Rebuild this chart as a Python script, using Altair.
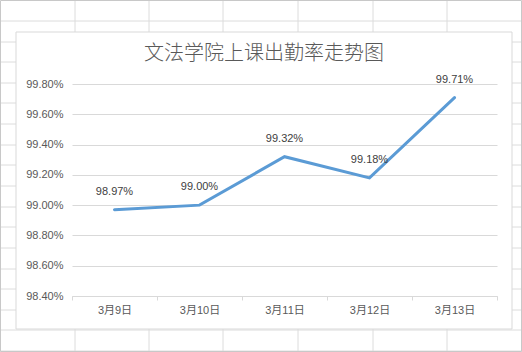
import altair as alt
import pandas as pd

# ---- data ----
dates = ["3月9日", "3月10日", "3月11日", "3月12日", "3月13日"]
rates = [0.9897, 0.9900, 0.9932, 0.9918, 0.9971]
y_ticks = [0.984, 0.986, 0.988, 0.990, 0.992, 0.994, 0.996, 0.998]
title_text = "文法学院上课出勤率走势图"

# ---- layout (page pixels) ----
PL, PT = 72, 84          # plot origin on page
W, H = 425, 212          # plot size
PAGE_W, PAGE_H = 522, 352
sheet_cols = [75, 149, 223, 298, 373, 447]
sheet_rows = [21, 42, 62, 83, 103, 124, 145, 165, 186, 207, 227, 248, 269, 289, 310, 330, 351]
BOX = (16, 32, 512, 329)  # chart box left, top, right, bottom

FONT = "Liberation Sans, Noto Sans CJK SC, sans-serif"
TXT = "#595959"
GRID = "#D9D9D9"
SHEET = "#DCDCDC"

# spreadsheet grid segments (outside the chart box)
segs = []
for x in sheet_cols:
    segs.append((x, 0, x, BOX[1]))
    segs.append((x, BOX[3], x, PAGE_H))
for y in sheet_rows:
    if y < BOX[1] or y > BOX[3]:
        segs.append((0, y, PAGE_W, y))
    else:
        segs.append((0, y, BOX[0], y))
        segs.append((BOX[2], y, PAGE_W, y))
seg_df = pd.DataFrame(
    [{"x": a - PL, "y": b - PT, "x2": c - PL, "y2": d - PT} for a, b, c, d in segs]
)

sheet = alt.Chart(seg_df).mark_rule(color=SHEET, strokeWidth=1).encode(
    x=alt.X("x:Q", scale=None),
    y=alt.Y("y:Q", scale=None),
    x2="x2:Q",
    y2="y2:Q",
)

rect_df = pd.DataFrame([
    {"x": BOX[0] - PL, "y": BOX[1] - PT, "x2": BOX[2] - PL, "y2": BOX[3] - PT},
])
box = alt.Chart(rect_df).mark_rect(fill=None, stroke=GRID, strokeWidth=1).encode(
    x=alt.X("x:Q", scale=None),
    y=alt.Y("y:Q", scale=None),
    x2="x2:Q",
    y2="y2:Q",
)
edge_df = pd.DataFrame([{"x": 0.5 - PL, "y": 0.5 - PT, "x2": PAGE_W - 0.5 - PL, "y2": PAGE_H - 0.5 - PT}])
edge = alt.Chart(edge_df).mark_rect(fill=None, stroke="#C8C8C8", strokeWidth=1).encode(
    x=alt.X("x:Q", scale=None),
    y=alt.Y("y:Q", scale=None),
    x2="x2:Q",
    y2="y2:Q",
)

title_df = pd.DataFrame([{"t": title_text, "x": 264 - PL, "y": 54 - PT}])
title = alt.Chart(title_df).mark_text(
    font="Noto Sans CJK SC", fontSize=20, fontWeight=300, color=TXT,
    align="center", baseline="middle",
).encode(
    x=alt.X("x:Q", scale=None),
    y=alt.Y("y:Q", scale=None),
    text="t:N",
)

df = pd.DataFrame({"date": dates, "rate": rates})

x_enc = alt.X(
    "date:N", sort=dates, bandPosition=0.5,
    scale=alt.Scale(type="band", paddingInner=0, paddingOuter=0),
    axis=alt.Axis(
        title=None, labelAngle=0, labelFont=FONT, labelFontSize=11, labelColor=TXT,
        domainColor=GRID, tickColor=GRID, tickSize=4, tickBand="extent",
        labelPadding=4, grid=False,
    ),
)
y_enc = alt.Y(
    "rate:Q",
    scale=alt.Scale(domain=[0.984, 0.998], nice=False, zero=False),
    axis=alt.Axis(
        title=None, values=y_ticks, format=".2%", labelFont=FONT, labelFontSize=11,
        labelColor=TXT, domain=False, ticks=False, labelPadding=9,
        gridColor=GRID, gridWidth=1, labelOverlap=False, tickCount=8,
    ),
)

line = alt.Chart(df).mark_line(color="#5B9BD5", strokeWidth=3, strokeCap="round").encode(
    x=x_enc, y=y_enc
)
labels = alt.Chart(df).mark_text(
    font=FONT, fontSize=11, color="#404040", dy=-18, baseline="middle"
).encode(
    x=x_enc,
    y=y_enc,
    text=alt.Text("rate:Q", format=".2%"),
)

chart = alt.layer(sheet, edge, box, title, line, labels).properties(
    width=W, height=H,
    padding={"left": PL, "top": PT, "right": PAGE_W - PL - W, "bottom": PAGE_H - PT - H},
    autosize=alt.AutoSizeParams(type="none"),
    background="white",
).configure_view(stroke=None)

chart.save("out.html", embed_options={"renderer": "svg", "actions": False})
